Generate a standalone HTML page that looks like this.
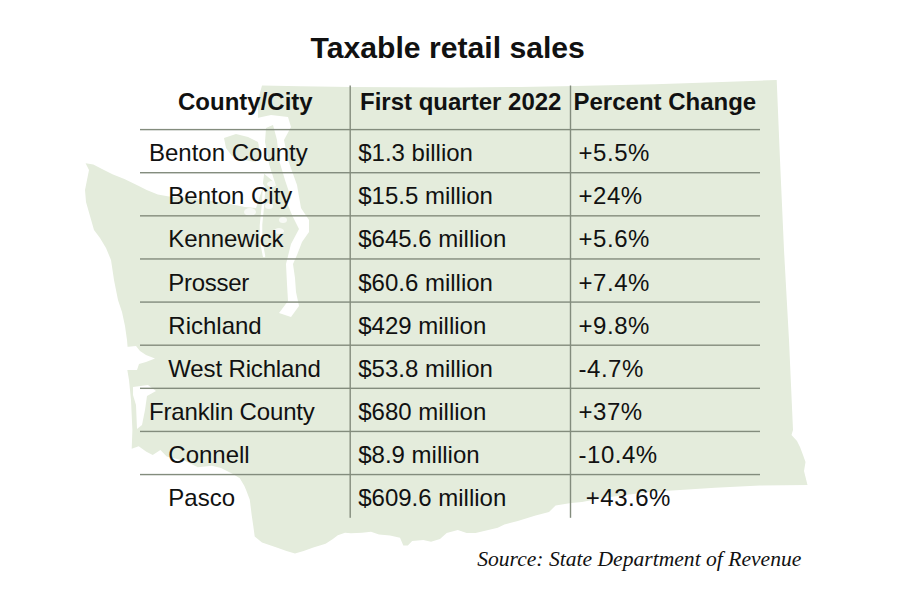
<!DOCTYPE html><html><head><meta charset="utf-8"><style>
html,body{margin:0;padding:0;background:#fff;width:900px;height:600px;overflow:hidden}
body{position:relative;font-family:"Liberation Sans",sans-serif;color:#111}
.t{position:absolute;line-height:1;white-space:pre}
.b{font-weight:bold}
svg{position:absolute;left:0;top:0}
</style></head><body>
<svg width="900" height="600" viewBox="0 0 900 600" style="filter:blur(0.3px)">
<polygon points="262.0,85.5 300.0,86.2 350.0,86.9 400.0,87.2 455.0,87.5 520.0,87.0 575.0,86.0 655.0,84.3 715.0,82.3 776.7,80.0 780.0,160.0 784.0,250.0 789.0,340.0 793.0,430.0 791.5,435.0 797.0,441.0 800.0,447.0 803.0,455.0 805.5,462.0 804.0,471.0 807.5,485.0 760.0,485.6 715.0,487.8 649.0,492.0 604.0,497.8 582.0,502.0 571.0,503.0 555.6,505.6 549.0,512.0 535.6,515.6 517.8,521.0 504.4,524.4 497.8,527.8 475.6,533.0 466.7,533.0 457.8,530.0 446.7,533.0 440.0,538.9 431.0,541.7 423.3,540.0 412.2,541.0 407.8,545.6 403.3,545.6 400.0,537.8 390.0,535.6 379.0,534.4 371.0,531.7 362.0,532.8 351.0,533.3 345.0,532.8 337.8,535.2 332.9,538.9 325.6,543.8 313.3,547.5 303.6,551.1 295.0,553.6 286.5,551.1 276.7,547.5 262.0,542.6 254.7,536.4 253.4,526.7 251.6,514.4 249.8,499.8 246.1,490.0 244.4,486.0 239.8,478.2 232.0,473.5 221.0,468.0 211.8,465.8 197.8,467.3 185.3,461.0 166.7,456.4 160.4,450.0 152.7,455.0 146.4,451.8 138.7,446.3 131.7,448.7 132.4,430.0 131.0,400.0 129.0,380.0 127.0,368.0 128.0,352.0 127.0,340.0 125.0,326.0 122.0,312.0 118.0,300.0 114.0,280.0 111.0,260.0 106.0,248.0 100.0,238.0 94.0,230.0 90.0,216.0 86.0,202.0 85.0,190.0 89.0,170.0 85.6,163.3 93.3,164.4 102.0,169.0 113.0,174.4 124.4,178.9 137.8,185.6 146.7,190.0 157.8,194.4 169.0,196.5 200.0,199.0 225.0,203.0 245.0,207.0 256.0,208.0 262.0,190.0 264.0,175.0 262.0,150.0 258.0,118.0 258.0,100.0" fill="#e4ecdc"/>
<polygon points="224.0,138.0 236.0,134.0 248.0,137.0 258.0,142.0 262.0,152.0 256.0,162.0 244.0,160.0 232.0,156.0 226.0,148.0" fill="#e4ecdc"/>
<polygon points="126.0,347.0 136.0,346.0 140.0,351.0 146.0,355.0 155.0,358.5 146.0,362.0 139.0,364.0 137.0,370.0 127.0,370.0" fill="#fff"/>
<polygon points="133.0,387.0 148.0,385.0 156.0,391.0 147.0,396.0 145.0,410.0 142.0,425.0 137.0,429.0 136.0,405.0 133.0,395.0" fill="#fff"/>
<polygon points="257.0,118.0 271.0,115.0 288.0,117.0 291.0,127.0 284.0,140.0 288.0,160.0 297.0,185.0 301.0,208.0 309.0,220.0 309.0,232.0 302.0,242.0 297.0,255.0 293.0,264.0 295.0,278.0 296.0,292.0 299.0,306.0 291.0,317.0 279.0,313.0 288.0,301.0 287.0,284.0 286.0,264.0 291.0,244.0 299.0,229.0 292.0,215.0 285.0,198.0 274.0,182.0 262.0,172.0 258.0,140.0" fill="#fff"/>
<ellipse cx="272" cy="184" rx="5" ry="3" fill="#fff" fill-opacity="0.7"/>
<ellipse cx="269" cy="206" rx="4" ry="3" fill="#fff" fill-opacity="0.7"/>
<ellipse cx="283" cy="220" rx="4" ry="3" fill="#fff" fill-opacity="0.7"/>
<ellipse cx="279" cy="231" rx="5" ry="3" fill="#fff" fill-opacity="0.7"/>
<ellipse cx="250" cy="212" rx="6" ry="4" fill="#fff" fill-opacity="0.7"/>
<ellipse cx="276" cy="150" rx="3" ry="5" fill="#fff" fill-opacity="0.7"/>
<ellipse cx="233" cy="168" rx="6" ry="3" fill="#fff" fill-opacity="0.7"/>
<polygon points="266.0,128.0 273.0,125.0 277.0,140.0 279.0,160.0 285.0,180.0 291.0,198.0 286.0,202.0 276.0,186.0 269.0,164.0 265.0,142.0" fill="#e4ecdc"/>
<path d="M258,178 L264,188 L263,205 L261,225 L261,240 L264,256" stroke="#fff" stroke-width="2.5" fill="none" stroke-linejoin="round" stroke-linecap="round"/>
</svg>
<svg width="900" height="600" viewBox="0 0 900 600">
<rect x="140" y="128.90" width="620" height="1.4" fill="#838c7d"/>
<rect x="140" y="172.02" width="620" height="1.4" fill="#838c7d"/>
<rect x="140" y="215.14" width="620" height="1.4" fill="#838c7d"/>
<rect x="140" y="258.26" width="620" height="1.4" fill="#838c7d"/>
<rect x="140" y="301.38" width="620" height="1.4" fill="#838c7d"/>
<rect x="140" y="344.50" width="620" height="1.4" fill="#838c7d"/>
<rect x="140" y="387.62" width="620" height="1.4" fill="#838c7d"/>
<rect x="140" y="430.74" width="620" height="1.4" fill="#838c7d"/>
<rect x="140" y="473.86" width="620" height="1.4" fill="#838c7d"/>
<rect x="349.50" y="85.5" width="1.4" height="432.3" fill="#838c7d"/>
<rect x="569.80" y="85.5" width="1.4" height="432.3" fill="#838c7d"/>
</svg>
<div class="t b" style="left:310.6px;top:32.88px;font-size:30.15px">Taxable retail sales</div>
<div class="t b" style="left:178px;top:90.18px;font-size:24px">County/City</div>
<div class="t b" style="left:360px;top:90.18px;font-size:24px">First quarter 2022</div>
<div class="t b" style="left:573.5px;top:90.18px;font-size:24px">Percent Change</div>
<div class="t" style="left:149.0px;top:140.58px;font-size:24px;letter-spacing:0px">Benton County</div>
<div class="t" style="left:358.2px;top:140.58px;font-size:24px">$1.3 billion</div>
<div class="t" style="left:578.6px;top:140.58px;font-size:24px;letter-spacing:0.5px">+5.5%</div>
<div class="t" style="left:168.3px;top:184.03px;font-size:24px;letter-spacing:0px">Benton City</div>
<div class="t" style="left:358.2px;top:184.03px;font-size:24px">$15.5 million</div>
<div class="t" style="left:578.6px;top:184.03px;font-size:24px;letter-spacing:0.5px">+24%</div>
<div class="t" style="left:168.3px;top:227.38px;font-size:24px;letter-spacing:-0.1px">Kennewick</div>
<div class="t" style="left:358.2px;top:227.38px;font-size:24px">$645.6 million</div>
<div class="t" style="left:578.6px;top:227.38px;font-size:24px;letter-spacing:0.5px">+5.6%</div>
<div class="t" style="left:168.3px;top:270.63px;font-size:24px;letter-spacing:-0.27px">Prosser</div>
<div class="t" style="left:358.2px;top:270.63px;font-size:24px">$60.6 million</div>
<div class="t" style="left:578.6px;top:270.63px;font-size:24px;letter-spacing:0.5px">+7.4%</div>
<div class="t" style="left:168.3px;top:313.98px;font-size:24px;letter-spacing:0px">Richland</div>
<div class="t" style="left:358.2px;top:313.98px;font-size:24px">$429 million</div>
<div class="t" style="left:578.6px;top:313.98px;font-size:24px;letter-spacing:0.5px">+9.8%</div>
<div class="t" style="left:168.3px;top:357.03px;font-size:24px;letter-spacing:-0.15px">West Richland</div>
<div class="t" style="left:358.2px;top:357.03px;font-size:24px">$53.8 million</div>
<div class="t" style="left:578.6px;top:357.03px;font-size:24px;letter-spacing:0.5px">-4.7%</div>
<div class="t" style="left:149.0px;top:399.98px;font-size:24px;letter-spacing:-0.16px">Franklin County</div>
<div class="t" style="left:358.2px;top:399.98px;font-size:24px">$680 million</div>
<div class="t" style="left:578.6px;top:399.98px;font-size:24px;letter-spacing:0.5px">+37%</div>
<div class="t" style="left:168.3px;top:442.93px;font-size:24px;letter-spacing:0px">Connell</div>
<div class="t" style="left:358.2px;top:442.93px;font-size:24px">$8.9 million</div>
<div class="t" style="left:578.6px;top:442.93px;font-size:24px;letter-spacing:0.5px">-10.4%</div>
<div class="t" style="left:168.3px;top:485.78px;font-size:24px;letter-spacing:0px">Pasco</div>
<div class="t" style="left:358.2px;top:485.78px;font-size:24px">$609.6 million</div>
<div class="t" style="left:578.6px;top:485.78px;font-size:24px;letter-spacing:0.5px"> +43.6%</div>
<div class="t" style="left:477.2px;top:548.81px;font-size:21.6px;font-family:'Liberation Serif',serif;font-style:italic">Source: State Department of Revenue</div>
</body></html>
